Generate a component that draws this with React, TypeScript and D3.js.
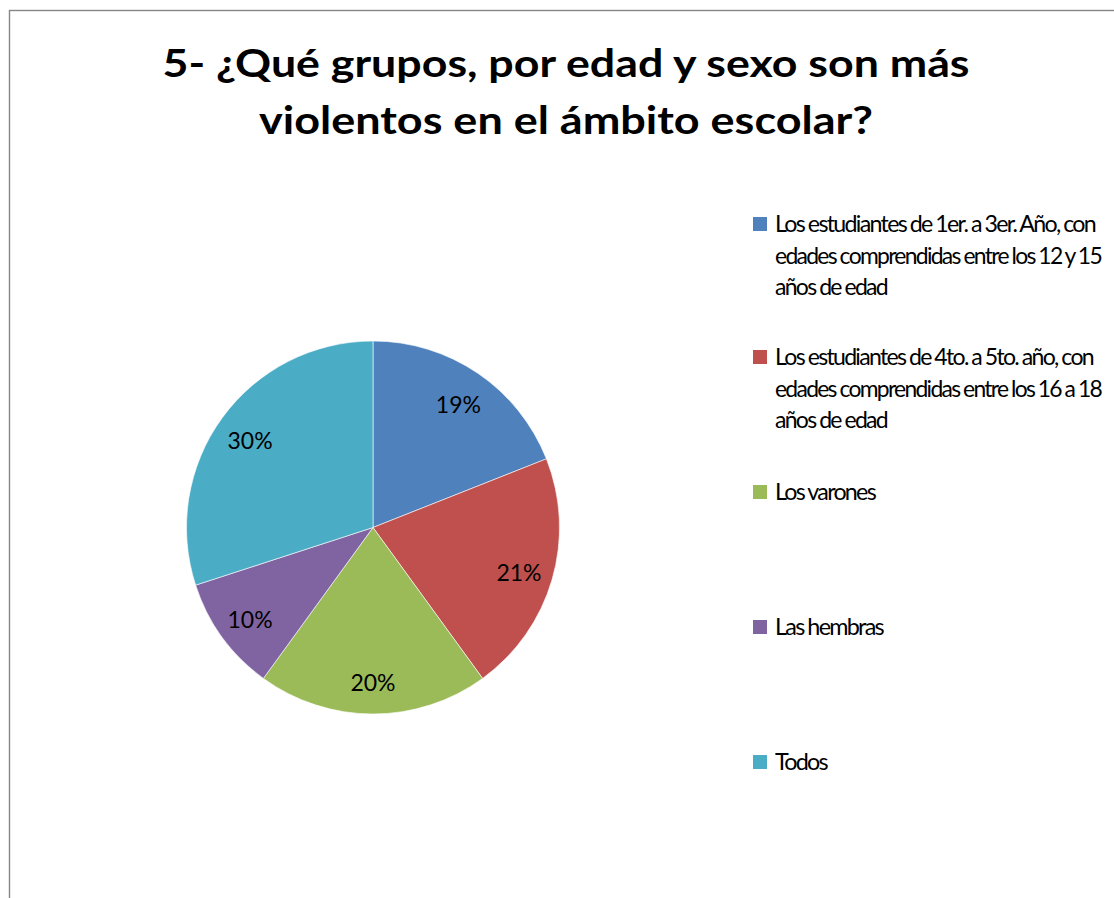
import React from "react";
import * as d3 from "d3";

// ---- data ----
const TITLE_LINES = [
  "5- ¿Qué grupos, por edad y sexo son más",
  "violentos en el ámbito escolar?",
];
const CATEGORY_LINES: string[][] = [
  ["Los estudiantes de 1er.  a 3er. Año, con", "edades comprendidas entre los 12 y 15", "años de edad"],
  ["Los estudiantes de 4to.  a 5to. año, con", "edades comprendidas entre los 16 a 18", "años de edad"],
  ["Los varones"],
  ["Las hembras"],
  ["Todos"],
];
const VALUES = [19, 21, 20, 10, 30];
const COLORS = ["#4F81BD", "#C0504D", "#9BBB59", "#8064A2", "#4BACC6"];

// ---- layout ----
const W = 1114;
const H = 898;
const CX = 373;
const CY = 527.5;
const R = 186.5;
const LABEL_R = 152;
const TITLE_WIDTHS = [807, 614];
const TITLE_BASELINES = [77, 134];
const LEGEND_X = 753;
const LEGEND_TEXT_X = 775;
const LEGEND_FIRST_BASELINES = [232, 365, 500, 635, 770];
const LEGEND_LINE_H = 31.7;
const LEGEND_WIDTHS: number[][] = [
  [320, 326, 112],
  [318, 326, 112],
  [100],
  [108],
  [52],
];

export default function App() {
  const pie = d3.pie<number>().sort(null).value((d) => d)(VALUES);
  const arc = d3.arc<d3.PieArcDatum<number>>().innerRadius(0).outerRadius(R);
  const labelArc = d3
    .arc<d3.PieArcDatum<number>>()
    .innerRadius(LABEL_R)
    .outerRadius(LABEL_R);
  const total = d3.sum(VALUES);
  const fmt = d3.format(".0%");

  return (
    <svg
      width={W}
      height={H}
      style={{ position: "absolute", left: 0, top: 0, background: "#fff" }}
      fontFamily="Lato, 'Open Sans', sans-serif"
    >
      <rect x={0} y={0} width={W} height={H} fill="#fff" />
      <rect
        x={9.5}
        y={10.5}
        width={W + 50}
        height={H + 50}
        fill="#fff"
        stroke="#868686"
        strokeWidth={1.4}
      />
      {TITLE_LINES.map((t, i) => (
        <text
          key={i}
          x={566}
          y={TITLE_BASELINES[i]}
          textAnchor="middle"
          fontSize={39}
          fontWeight="bold"
          fill="#000"
          textLength={TITLE_WIDTHS[i]}
          lengthAdjust="spacingAndGlyphs"
        >
          {t}
        </text>
      ))}
      <g transform={`translate(${CX},${CY})`}>
        {pie.map((p, i) => (
          <path
            key={i}
            d={arc(p) || ""}
            fill={COLORS[i]}
            stroke="#ffffff"
            strokeOpacity={0.6}
            strokeWidth={1}
          />
        ))}
        {pie.map((p, i) => {
          const [x, y] = labelArc.centroid(p);
          return (
            <text
              key={i}
              x={x}
              y={y + 2}
              textAnchor="middle"
              dominantBaseline="central"
              fontSize={23}
              fill="#000"
            >
              {fmt(p.value / total)}
            </text>
          );
        })}
      </g>
      {CATEGORY_LINES.map((lines, i) => (
        <g key={i}>
          <rect
            x={LEGEND_X}
            y={LEGEND_FIRST_BASELINES[i] - 15}
            width={14}
            height={14}
            fill={COLORS[i]}
          />
          {lines.map((ln, j) => (
            <text
              key={j}
              x={LEGEND_TEXT_X}
              y={LEGEND_FIRST_BASELINES[i] + j * LEGEND_LINE_H}
              fontSize={23}
              fill="#000"
              letterSpacing={-1.7}
              wordSpacing={-0.5}
              textLength={LEGEND_WIDTHS[i][j]}
              lengthAdjust="spacingAndGlyphs"
            >
              {ln}
            </text>
          ))}
        </g>
      ))}
    </svg>
  );
}
